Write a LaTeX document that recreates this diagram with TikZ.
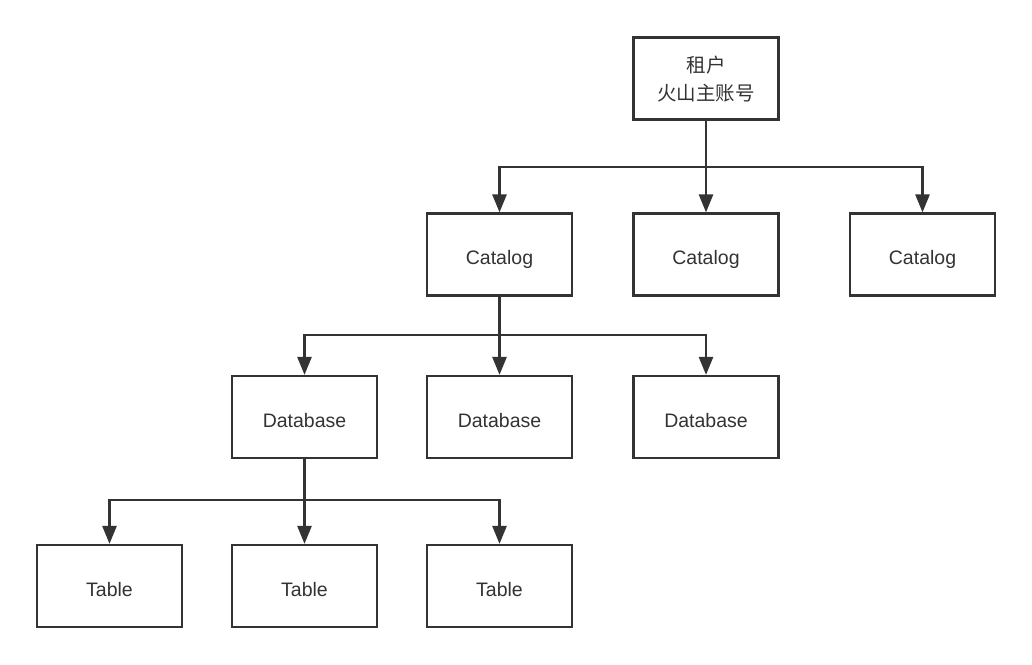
\documentclass[tikz,border=0pt]{standalone}
\usepackage{fontspec}
\setmainfont{Liberation Sans}
\newfontfamily\cjk{Noto Sans CJK SC}
\usetikzlibrary{arrows.meta}
\definecolor{ink}{HTML}{333333}
\begin{document}
\begin{tikzpicture}[x=1pt,y=-1pt,
  box/.style={draw=ink,line width=2.2pt,minimum width=145pt,minimum height=82pt,inner sep=0pt,font=\fontsize{19.5}{28}\selectfont,text=ink,align=center,text depth=0pt},
  onebox/.style={box,text height=20pt},
  conn/.style={draw=ink,line width=2.6pt,-{Triangle[width=14pt,length=18pt]}}]
\useasboundingbox (0,0) rectangle (1032,664);
\node[box] (root) at (706,78.5) {{\cjk 租户}\\{\cjk 火山主账号}};
\node[onebox] (cat1) at (499.5,254.5) {Catalog};
\node[onebox] (cat2) at (706,254.5) {Catalog};
\node[onebox] (cat3) at (922.5,254.5) {Catalog};
\node[onebox] (db1) at (304.5,417) {Database};
\node[onebox] (db2) at (499.5,417) {Database};
\node[onebox] (db3) at (706,417) {Database};
\node[onebox] (t1) at (109.5,586) {Table};
\node[onebox] (t2) at (304.5,586) {Table};
\node[onebox] (t3) at (499.5,586) {Table};
\coordinate (j1) at (706,167);
\coordinate (j2) at (499.5,335);
\coordinate (j3) at (304.5,500);
\draw[conn] (root.south) -- (cat2.north);
\draw[conn] (j1) -| (cat1.north);
\draw[conn] (j1) -| (cat3.north);
\draw[conn] (cat1.south) -- (db2.north);
\draw[conn] (j2) -| (db1.north);
\draw[conn] (j2) -| (db3.north);
\draw[conn] (db1.south) -- (t2.north);
\draw[conn] (j3) -| (t1.north);
\draw[conn] (j3) -| (t3.north);
\end{tikzpicture}
\end{document}
